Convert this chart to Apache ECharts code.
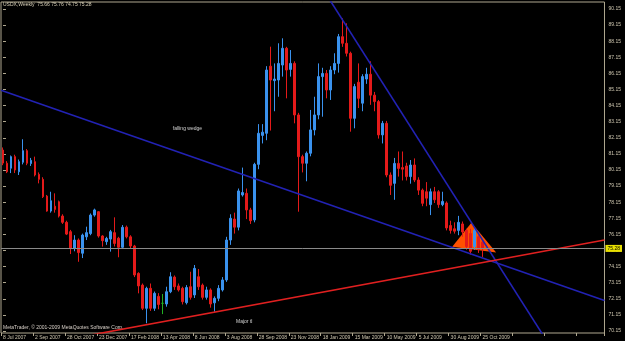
<!DOCTYPE html>
<html><head><meta charset="utf-8">
<script src="https://cdn.jsdelivr.net/npm/echarts@6/dist/echarts.min.js"></script>
<style>html,body{margin:0;padding:0;background:#000;}#c{width:625px;height:341px;}</style>
</head><body><div id="c"></div>
<script>
// ---- data ----
const symbolName = 'USDX,Weekly';
const tickLabels = ['8 Jul 2007','2 Sep 2007','28 Oct 2007','23 Dec 2007','17 Feb 2008','13 Apr 2008','8 Jun 2008','3 Aug 2008','28 Sep 2008','23 Nov 2008','18 Jan 2009','15 Mar 2009','10 May 2009','5 Jul 2009','30 Aug 2009','25 Oct 2009'];
const weeksPerTick = 8;
const totalSlots = 151;
const yTicks = [70.15,71.15,72.15,73.15,74.15,75.15,76.15,77.15,78.15,79.15,80.15,81.15,82.15,83.15,84.15,85.15,86.15,87.15,88.15,89.15,90.15];
const yMin = 70.026, yMax = 90.585;

const opens = [81.39,80.57,80.26,80.98,80.04,80.63,81.35,80.55,80.67,79.88,79.57,78.53,77.60,77.90,78.18,77.29,76.90,76.32,75.29,75.80,
74.98,76.00,76.20,77.35,77.56,76.05,75.70,75.86,76.26,75.91,75.35,76.60,76.00,75.43,73.73,73.00,71.56,72.80,71.56,72.30,
71.87,71.83,72.59,73.50,72.95,72.80,71.91,72.90,72.39,73.52,73.00,72.24,72.70,71.90,72.18,72.70,73.32,75.80,77.10,76.60,
78.60,78.70,77.67,77.05,80.50,82.30,82.43,86.60,85.70,85.74,86.67,87.71,86.40,86.77,83.57,80.98,80.57,81.19,82.64,83.57,
85.95,86.15,85.12,86.36,86.77,88.43,88.02,87.40,83.36,85.60,84.30,85.80,86.10,84.80,84.40,82.33,83.05,79.84,79.32,80.56,
80.30,80.40,79.74,80.46,79.53,78.90,78.80,78.00,78.80,78.80,78.00,78.10,76.70,76.50,76.40,76.80,76.40,76.20,75.40,76.00,75.66];
const closes = [80.58,80.04,80.98,80.15,80.67,81.35,80.57,80.75,79.84,79.57,78.49,77.60,78.24,77.70,77.29,76.90,76.17,75.29,75.80,75.02,
76.11,76.26,77.35,77.67,76.05,75.76,75.90,76.32,75.59,75.35,76.59,76.00,75.43,73.63,72.95,71.56,72.80,71.56,72.49,71.80,
71.87,72.59,73.52,72.90,72.70,71.97,72.85,72.24,74.04,72.90,72.24,72.70,71.83,72.18,72.80,73.32,75.80,77.15,76.60,78.85,
78.75,77.67,77.00,80.50,82.43,82.50,86.36,85.74,85.80,86.77,87.71,86.36,86.77,83.57,80.98,80.57,81.19,82.64,83.57,85.95,
86.15,85.12,86.36,86.77,88.43,88.02,87.40,83.36,85.33,84.60,85.95,86.10,84.80,84.40,82.33,83.05,79.84,79.20,80.56,80.25,
80.20,79.74,80.46,79.53,78.90,78.08,78.40,78.80,78.30,78.00,78.20,76.55,76.40,76.35,76.90,76.30,75.40,75.10,76.40,75.20,75.28];
const lows = [80.45,79.96,79.96,79.96,79.84,80.50,80.45,80.40,79.75,79.32,78.41,77.56,77.50,77.50,77.20,76.80,76.11,74.93,75.10,74.45,
74.68,75.80,76.10,77.25,75.95,75.39,75.50,75.08,75.40,74.73,75.30,75.90,75.30,73.50,72.49,71.45,70.63,71.40,71.40,71.50,
71.20,71.66,72.50,72.70,72.60,71.80,71.80,72.10,72.20,72.70,72.10,72.10,71.60,71.35,72.00,72.60,73.20,75.50,76.20,76.40,
78.50,77.10,76.80,76.90,80.20,81.80,82.00,82.60,83.80,84.70,85.95,84.60,85.95,83.05,77.56,80.00,79.45,81.00,82.30,83.30,
83.46,84.60,84.50,86.10,86.20,87.80,87.20,82.53,82.74,84.00,83.80,85.50,84.20,83.80,82.10,81.80,79.70,78.60,78.30,79.74,
79.50,79.50,79.30,79.40,78.60,77.90,77.90,77.35,78.10,77.80,77.90,76.40,76.20,76.20,76.10,76.00,75.20,74.90,75.20,75.00,74.75];
const highs = [81.55,80.70,81.05,81.10,80.80,82.06,81.45,80.90,80.98,80.00,79.70,78.60,78.80,78.70,78.25,77.40,77.00,76.43,76.10,75.90,
76.20,76.63,77.45,77.75,77.60,76.10,76.00,76.43,77.21,76.00,76.73,76.70,76.10,75.50,73.80,73.10,72.90,73.10,72.60,72.50,
72.45,72.90,73.80,73.60,73.10,72.90,73.00,73.83,74.25,74.00,73.10,72.90,72.80,72.30,73.00,73.50,76.00,77.40,77.50,79.00,
80.30,79.00,77.80,80.60,83.00,83.00,86.60,87.81,86.77,88.02,88.33,87.80,87.60,86.90,83.70,81.10,81.30,83.88,84.70,86.77,
86.50,86.36,86.60,87.40,88.60,89.57,89.26,87.50,85.50,86.77,86.10,86.50,86.90,85.00,84.50,83.20,83.20,80.00,80.90,81.30,
81.30,80.60,80.77,80.87,79.70,79.00,79.40,79.00,79.10,78.90,78.80,78.20,77.00,76.90,77.30,76.95,76.50,76.50,76.60,76.10,75.76];

// drawn objects, in (bar index, price) space
const lowerWedge = [[-0.5, 85.10], [150.5, 72.04]];
const upperWedge = [[78.6, 91.95], [137.5, 68.97]];
const majorTrendLine = [[21.75, 69.89], [150.5, 75.80]];
const wedgeTriangle = [[112.4, 75.39], [117.2, 76.88], [123.4, 75.02]];
const annotations = [
  {text: 'falling wedge', at: [42.5, 82.7]},
  {text: 'Major tl', at: [58.3, 70.75]}
];

// ---- chart ----
const last = opens.length - 1;
const currentPrice = closes[last];
const header = symbolName + '  ' + [opens[last], highs[last], lows[last], closes[last]].map(v => v.toFixed(2)).join(' ');
const categories = Array.from({length: totalSlots}, (_, i) => String(i));
const UP = '#3a92ee', DOWN = '#e41a1a', DOJI = '#22b022';
const candleData = opens.map((o, i) => {
  const item = {value: [o, closes[i], lows[i], highs[i]]};
  if (o === closes[i]) item.itemStyle = {color: DOJI, color0: DOJI, borderColor: DOJI, borderColor0: DOJI};
  return item;
});
const axisCol = '#b0a890', textCol = '#cfc7b0';
const FONT = 'Liberation Sans';

const chart = echarts.init(document.getElementById('c'), null, {renderer: 'canvas'});
chart.setOption({
  animation: false,
  backgroundColor: '#000',
  grid: {left: 1, top: 2, width: 604, height: 331, show: true, borderColor: axisCol, borderWidth: 1},
  xAxis: [
    {type: 'category', data: categories, boundaryGap: true,
     axisLine: {show: false},
     axisTick: {show: true, interval: weeksPerTick - 1, length: 3, lineStyle: {color: axisCol}},
     axisLabel: {interval: weeksPerTick - 1, align: 'left', margin: 2, fontSize: 5, fontFamily: FONT, color: textCol,
       formatter: (v, i) => tickLabels[i / weeksPerTick] || ''},
     splitLine: {show: false}},
    {type: 'value', min: -0.5, max: totalSlots - 0.5, show: false}
  ],
  yAxis: [
    {type: 'value', position: 'right', min: yMin, max: yMax,
     axisLine: {show: false}, splitLine: {show: false},
     axisTick: {show: true, length: 3, customValues: yTicks, lineStyle: {color: axisCol}},
     axisLabel: {customValues: yTicks, formatter: v => v.toFixed(2), fontSize: 5, fontFamily: FONT, color: textCol, margin: 4}},
    {type: 'value', position: 'right', min: yMin, max: yMax,
     axisLine: {show: false}, splitLine: {show: false}, axisTick: {show: false},
     axisLabel: {customValues: [currentPrice], formatter: v => v.toFixed(2), fontSize: 5, fontFamily: FONT,
       color: '#000', backgroundColor: '#e8e000', padding: [1, 2, 1, 2], margin: 1}}
  ],
  graphic: [
    {type: 'text', x: 3, y: 5, style: {text: header, fill: '#d8d0b8', fontSize: 5, fontFamily: FONT, verticalAlign: 'middle'}},
    {type: 'text', x: 3, y: 328, style: {text: 'MetaTrader, \u00a9 2001-2009 MetaQuotes Software Corp.', fill: '#d8d0c8', fontSize: 5, fontFamily: FONT, verticalAlign: 'middle'}}
  ],
  series: [
    {type: 'custom', xAxisIndex: 1, yAxisIndex: 0, z: 1, silent: true,
     data: [wedgeTriangle[0]],
     renderItem: (params, api) => ({type: 'polygon', shape: {points: wedgeTriangle.map(p => api.coord(p))}, style: {fill: '#ff5000'}})},
    {type: 'candlestick', xAxisIndex: 0, yAxisIndex: 0, z: 2, barWidth: 2.4,
     data: candleData,
     itemStyle: {color: UP, color0: DOWN, borderColor: UP, borderColor0: DOWN, borderWidth: 1},
     markLine: {silent: true, symbol: 'none', label: {show: false}, lineStyle: {color: '#8a8a8a', width: 1, type: 'solid'},
       data: [{yAxis: currentPrice}]}},
    {type: 'line', xAxisIndex: 1, yAxisIndex: 0, z: 3, data: lowerWedge, symbol: 'none', lineStyle: {color: '#2222b4', width: 1.6}},
    {type: 'line', xAxisIndex: 1, yAxisIndex: 0, z: 3, data: upperWedge, symbol: 'none', lineStyle: {color: '#2222b4', width: 1.6}},
    {type: 'line', xAxisIndex: 1, yAxisIndex: 0, z: 3, data: majorTrendLine, symbol: 'none', lineStyle: {color: '#e02020', width: 1.6}},
    {type: 'scatter', xAxisIndex: 1, yAxisIndex: 0, z: 4, symbolSize: 0,
     data: annotations.map(a => ({value: a.at, name: a.text})),
     label: {show: true, position: 'right', distance: 0, formatter: p => p.name, color: '#ffffff', fontSize: 5, fontFamily: FONT}}
  ]
});
</script></body></html>
